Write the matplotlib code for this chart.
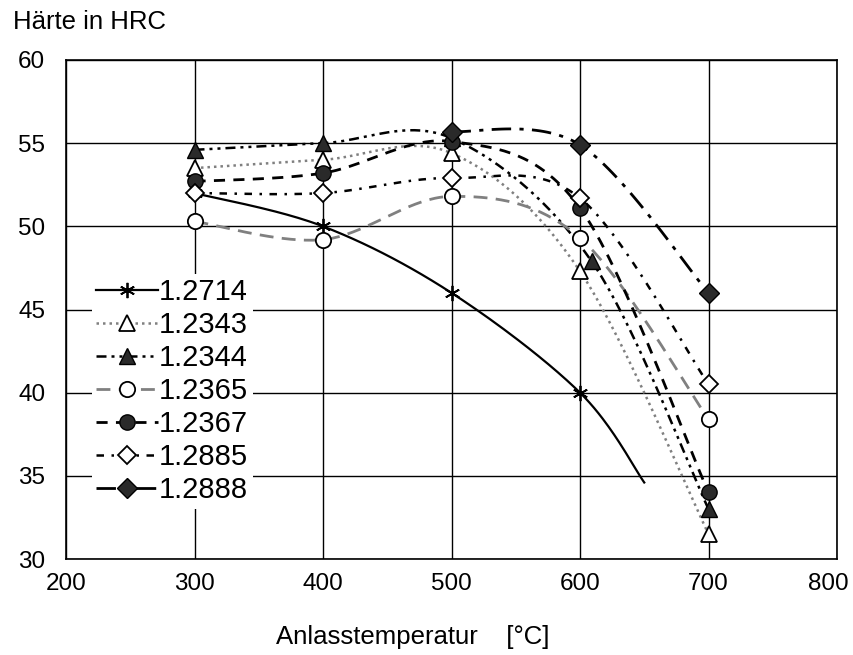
import numpy as np
import matplotlib
matplotlib.use('Agg')
from matplotlib import pyplot as plt
import matplotlib.transforms as mtransforms

plt.rcParams['font.family'] = ['Liberation Sans', 'DejaVu Sans']

x_2714 = [300, 400, 500, 600, 650]
y_2714 = [52.0, 50.0, 46.0, 40.0, 34.6]
x_2343 = [300, 400, 500, 600, 700]
y_2343 = [53.5, 54.0, 54.4, 47.3, 31.5]
x_2344 = [300, 400, 500, 609, 700]
y_2344 = [54.6, 55.0, 55.3, 47.9, 33.0]
x_2365 = [300, 400, 500, 600, 700]
y_2365 = [50.3, 49.2, 51.8, 49.3, 38.4]
x_2367 = [300, 400, 500, 600, 700]
y_2367 = [52.7, 53.2, 55.1, 51.1, 34.0]
x_2885 = [300, 400, 500, 600, 700]
y_2885 = [52.0, 52.0, 52.9, 51.7, 40.5]
x_2888 = [500, 600, 700]
y_2888 = [55.7, 54.9, 46.0]

xticks = [200, 300, 400, 500, 600, 700, 800]
yticks = [30, 35, 40, 45, 50, 55, 60]


def smooth(xs, ys, n=40):
    # Excel-artige Glaettung (Catmull-Rom als Bezier)
    p = np.column_stack([xs, ys]).astype(float)
    ext = np.vstack([p[0], p, p[-1]])
    out = []
    t = np.linspace(0, 1, n)[:, None]
    for i in range(len(p) - 1):
        p0, p1, p2, p3 = ext[i], ext[i + 1], ext[i + 2], ext[i + 3]
        c1 = p1 + (p2 - p0) / 6
        c2 = p2 - (p3 - p1) / 6
        seg = (1 - t)**3 * p1 + 3 * (1 - t)**2 * t * c1 + 3 * (1 - t) * t**2 * c2 + t**3 * p2
        out.append(seg)
    c = np.vstack(out)
    return c[:, 0], c[:, 1]


fig = plt.figure(figsize=(8.54, 6.55), dpi=100)
ax = fig.add_axes([66/854, 1-559/655, 771/854, 499/655])

dark = '#2a2a2a'
gray = '#808080'
series = [
    ('1.2714', x_2714, y_2714, dict(color='black', lw=1.6, ls='-'),
     dict(marker=(6, 2, 0), ms=11, mfc='black', mec='black', mew=1.3), 4),
    ('1.2343', x_2343, y_2343, dict(color=gray, lw=1.8, ls=(0, (1, 1.6))),
     dict(marker='^', ms=11, mfc='white', mec='black', mew=1.3), 5),
    ('1.2344', x_2344, y_2344, dict(color='black', lw=1.8, ls=(0, (4, 2, 1.2, 2, 1.2, 2))),
     dict(marker='^', ms=12, mfc=dark, mec='black', mew=1.0), 5),
    ('1.2365', x_2365, y_2365, dict(color=gray, lw=2.0, ls=(0, (5, 3))),
     dict(marker='o', ms=11, mfc='white', mec='black', mew=1.3), 5),
    ('1.2367', x_2367, y_2367, dict(color='black', lw=2.0, ls=(0, (4, 3))),
     dict(marker='o', ms=11, mfc=dark, mec='black', mew=1.0), 5),
    ('1.2885', x_2885, y_2885, dict(color='black', lw=1.8, ls=(0, (3, 3, 1, 3))),
     dict(marker='D', ms=9, mfc='white', mec='black', mew=1.3), 5),
    ('1.2888', x_2888, y_2888, dict(color='black', lw=2.0, ls=(0, (7, 3, 1.5, 3))),
     dict(marker='D', ms=10, mfc=dark, mec='black', mew=1.0), 3),
]

handles = []
for name, xs, ys, lkw, mkw, nm in series:
    sx, sy = smooth(xs, ys)
    ax.plot(sx, sy, zorder=3, **lkw)
    ax.plot(xs[:nm], ys[:nm], ls='none', zorder=4, **mkw)
    h, = ax.plot([], [], label=name, **lkw, **mkw)
    handles.append(h)

ax.set_xlim(200, 800)
ax.set_ylim(30, 60)
ax.set_xticks(xticks)
ax.set_yticks(yticks)
ax.grid(True, color='black', lw=1.0)
ax.set_axisbelow(True)
ax.tick_params(axis='x', length=0, pad=10, labelsize=17.5)
ax.tick_params(axis='y', length=0, pad=15, labelsize=17.5)
for s in ax.spines.values():
    s.set_color('black')
    s.set_linewidth(1.2)

# letzte x-Beschriftung etwas nach links, wie im Original
lab = ax.get_xticklabels()[-1]
lab.set_transform(lab.get_transform() + mtransforms.ScaledTranslation(-9/100, 0, fig.dpi_scale_trans))

leg = ax.legend(handles=handles, loc='upper left',
                bbox_to_anchor=(92/854, 1-274/655), bbox_transform=fig.transFigure,
                fontsize=21, handlelength=2.1, handletextpad=0.05,
                labelspacing=0.17, borderpad=0.15, borderaxespad=0,
                frameon=True, fancybox=False, edgecolor='none', framealpha=1)
leg.set_zorder(5)

fig.text(13/854, 1-22/655, 'Härte in HRC', fontsize=18.5, va='center', ha='left')
fig.text(413/854, 1-637/655, 'Anlasstemperatur    [°C]', fontsize=18.5, va='center', ha='center')

fig.savefig('out.png', dpi=100)
